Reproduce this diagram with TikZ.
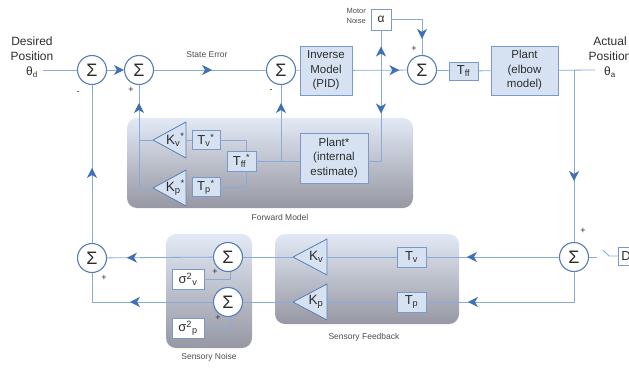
\documentclass[tikz,border=0pt]{standalone}
\usepackage{fontspec}
\setmainfont{Liberation Sans}
\usetikzlibrary{arrows.meta,calc,positioning,decorations.markings}
\definecolor{sigline}{RGB}{138,170,215}
\definecolor{arrowblue}{RGB}{62,112,182}
\definecolor{sumline}{RGB}{88,126,184}
\definecolor{boxfill}{RGB}{214,226,242}
\definecolor{boxline}{RGB}{122,152,200}
\definecolor{grouptop}{RGB}{226,233,245}
\definecolor{groupmid}{RGB}{190,205,234}
\definecolor{groupbot}{RGB}{150,151,162}
\definecolor{inktext}{RGB}{45,45,45}
\newcommand{\gainblock}[4]{% name, tip, length, label
  \coordinate (#1) at #2;
  \draw[gainshape] (#1) -- ++(#3,-18) -- ++(0,36) -- cycle;
  \coordinate (#1-b) at ($(#1)+(#3,0)$);
  \node[gaintext] (#1-t) at ($(#1)+(0.68*#3,0)$) {#4};}

\begin{document}
\begin{tikzpicture}[x=1pt,y=-1pt,
  flowtip/.tip={Stealth[length=10pt,width=10pt,inset=3pt,color=arrowblue]},
  sig/.style={draw=sigline,line width=0.8pt},
  arrowat/.style={postaction={decorate},decoration={markings,
    mark=at position #1 with {\arrow{flowtip}}}},
  sumnode/.style={circle,draw=sumline,fill=white,line width=1.1pt,minimum size=29pt,
    inner sep=0pt,text=inktext,font=\fontsize{18}{18}\selectfont},
  blockbox/.style={rectangle,draw=boxline,fill=boxfill,line width=0.8pt,align=center,
    text=inktext,font=\fontsize{11.5}{14.5}\selectfont},
  smallbox/.style={blockbox,minimum width=29pt,minimum height=19pt,inner sep=1pt,
    font=\fontsize{13}{13}\selectfont},
  noisebox/.style={smallbox,fill=white},
  gainshape/.style={draw=sumline,fill=boxfill,line width=0.8pt,line join=round},
  gaintext/.style={text=inktext,inner sep=0pt,font=\fontsize{13.5}{13.5}\selectfont},
  labeltext/.style={align=center,text=inktext,font=\fontsize{12}{15}\selectfont},
  smalltext/.style={text=inktext!85,inner sep=1pt,font=\fontsize{8.5}{10}\selectfont},
  signtext/.style={text=inktext,inner sep=0pt,font=\fontsize{9}{9}\selectfont},
  groupfill/.style={top color=grouptop,middle color=groupmid,bottom color=groupbot,
    rounded corners=10pt}]
\useasboundingbox (0,0) rectangle (629,367);

% group panels
\shade[groupfill] (127,118) rectangle (413,208);
\shade[groupfill] (166,234) rectangle (252,348);
\shade[groupfill] (275,234) rectangle (459,324);
\node[smalltext] (fwdlbl) at (280,217) {Forward Model};
\node[smalltext] (noiselbl) at (209,357) {Sensory Noise};
\node[smalltext] (fbklbl) at (364,337) {Sensory Feedback};

% main loop
\node[labeltext] (desired) at (32,57) {Desired\\Position\\θ\textsubscript{d}};
\coordinate (in) at (43,70);
\node[sumnode] (S1) at (92,70) {Σ};
\node[sumnode] (S2) at (139,70) {Σ};
\node[sumnode] (S3) at (281,70) {Σ};
\node[blockbox,minimum width=52pt,minimum height=49pt] (inv) at (326,70.5) {Inverse\\Model\\(PID)};
\node[noisebox,minimum width=20pt,minimum height=21pt,font=\fontsize{12}{12}\selectfont] (alpha) at (381,19.5) {α};
\node[smalltext,align=right,anchor=east,font=\fontsize{7.5}{10}\selectfont] (motor) at (367,16) {Motor\\Noise};
\node[sumnode] (S4) at (422,70) {Σ};
\node[smallbox,minimum height=18pt] (Tff) at (463.5,71) {T\textsubscript{ff}};
\node[blockbox,minimum width=67pt,minimum height=49pt] (plant) at (524.5,70.5) {Plant\\(elbow\\model)};
\node[labeltext] (actual) at (610,57) {Actual\\Position\\θ\textsubscript{a}};
\coordinate (out) at (595,70);
\node[smalltext] (err) at (207,55) {State Error};

% sensory path
\node[sumnode] (S5) at (574,257) {Σ};
\node[noisebox,anchor=west,text width=24pt,align=left,inner sep=3pt,minimum height=18pt] (dist) at (618,256) {D};
\node[smallbox,minimum height=20pt] (Tv) at (411.5,257) {T\textsubscript{v}};
\node[smallbox,minimum height=20pt] (Tp) at (411.5,302) {T\textsubscript{p}};
\gainblock{Kv}{(293,257)}{34}{K\textsubscript{v}}
\gainblock{Kp}{(293,302)}{34}{K\textsubscript{p}}
\node[sumnode] (Sv) at (228,257) {Σ};
\node[sumnode] (Sp) at (228,302) {Σ};
\node[noisebox,minimum width=32pt,minimum height=20pt] (sigv) at (188,279) {σ\textsuperscript{2}\textsubscript{v}};
\node[noisebox,minimum width=32pt,minimum height=20pt] (sigp) at (188,328) {σ\textsuperscript{2}\textsubscript{p}};
\node[sumnode] (S6) at (92,258) {Σ};

% forward model
\gainblock{KvF}{(153,140)}{33}{K\textsubscript{v}\textsuperscript{*}}
\gainblock{KpF}{(153,188)}{33}{K\textsubscript{p}\textsuperscript{*}}
\node[smallbox,minimum width=28pt] (TvF) at (206,140) {T\textsubscript{v}\textsuperscript{*}};
\node[smallbox,minimum width=28pt] (TpF) at (206,187) {T\textsubscript{p}\textsuperscript{*}};
\node[smallbox,minimum height=20pt] (TffF) at (241.5,161) {T\textsubscript{ff}\textsuperscript{*}};
\node[blockbox,minimum width=68pt,minimum height=50pt] (plantF) at (334,158) {Plant*\\(internal\\estimate)};

% signs
\node[signtext] (m1) at (78,93) {-};
\node[signtext] (p2) at (131,90) {+};
\node[signtext] (m3) at (271,91) {-};
\node[signtext] (p4) at (414,49) {+};
\node[signtext] (p5) at (583,231) {+};
\node[signtext] (pv) at (215,272) {+};
\node[signtext] (pp) at (218,318) {+};
\node[signtext] (p6) at (104,278) {+};

% connectors
\draw[sig] (in) -- (S1);
\draw[sig,-flowtip] (S1) -- (S2);
\draw[sig,arrowat=58pt] (S2) -- (S3);
\draw[sig] (S3) -- (inv);
\draw[sig,arrowat=47pt] (inv) -- (S4);
\draw[sig,arrowat=50pt] (alpha.east) -| (S4.north);
\draw[sig,arrowat=24pt] (alpha |- inv) -- (alpha);
\draw[sig,arrowat=43pt] (alpha |- inv) |- (plantF.east |- TffF);
\draw[sig] (S4) -- (Tff);
\draw[sig] (Tff) -- (plant);
\draw[sig] (plant) -- (out);
\draw[sig,arrowat=111pt] (S5 |- out) -- (S5.north);
\draw[sig] (S5.east) -- ++(8,0);
\draw[sig] (dist.west) -- ++(-9,0) -- ++(-6,-6);
\draw[sig,arrowat=92pt] (S5) -- (Tv);
\draw[sig] (Tv) -- (Kv-b);
\draw[sig] (Kv) -- (Sv);
\draw[sig,arrowat=136pt] (S5.south) |- (Tp);
\draw[sig] (Tp) -- (Kp-b);
\draw[sig] (Kp) -- (Sp);
\draw[sig] (sigv) -| ([xshift=2pt]Sv.south);
\draw[sig] (sigp) -| ([xshift=2pt]Sp.south);
\draw[sig,arrowat=86pt] (Sv) -- (S6);
\draw[sig,arrowat=83pt] (Sp) -| (S6.south);
\draw[sig,arrowat=75pt] (S6) -- (S1);
\draw[sig] (plantF.west |- TffF) -- (TffF);
\draw[sig,arrowat=58pt] (S3 |- TffF) -- (S3);
\draw[sig] (TvF) -| ([xshift=5pt]TffF.north);
\draw[sig] (TpF) -| ([xshift=5pt]TffF.south);
\draw[sig] (TvF) -- (KvF-b);
\draw[sig] (TpF) -- (KpF-b);
\draw[sig] (KvF) -- (S2 |- KvF);
\draw[sig,arrowat=99pt] (KpF) -| (S2.south);
\end{tikzpicture}
\end{document}
